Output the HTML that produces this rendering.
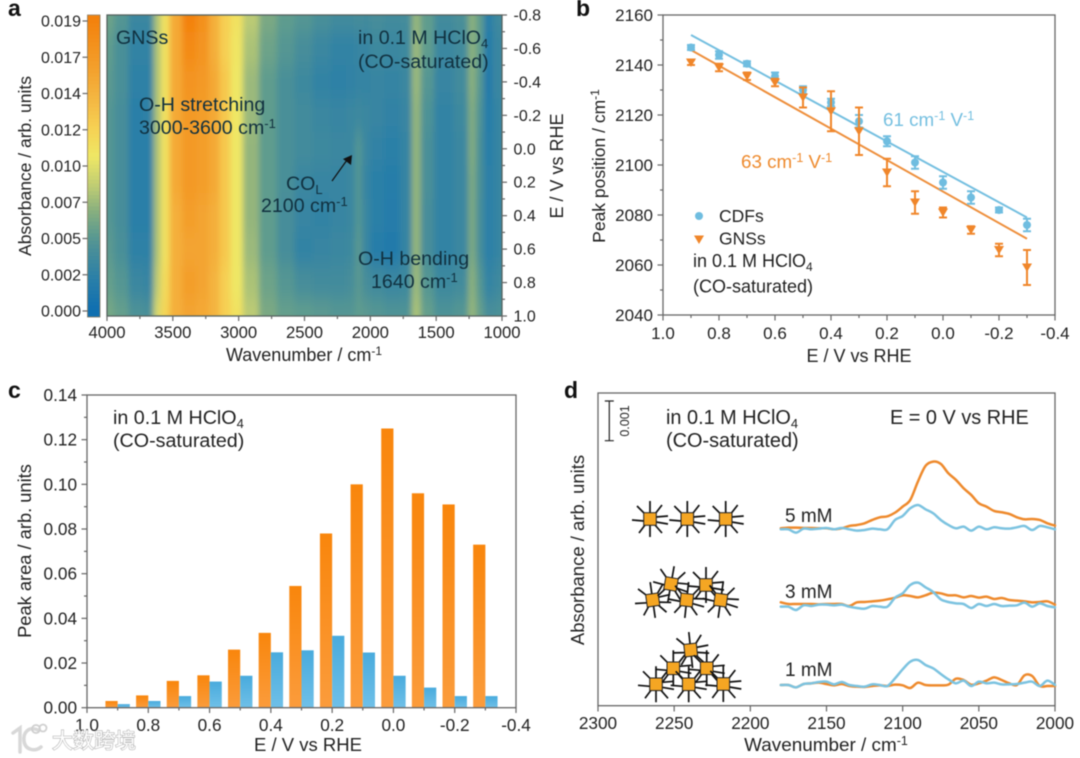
<!DOCTYPE html>
<html lang="en">
<head>
<meta charset="utf-8">
<title>CO adsorption spectra figure</title>
<style>
html,body{margin:0;padding:0;background:#fff;}
#figure{display:block;width:1080px;height:758px;filter:blur(0.45px);}
text{font-family:"Liberation Sans","Noto Sans CJK SC",sans-serif;fill:#222;}
.pl{font-weight:bold;font-size:23px;fill:#111;}
.t{font-size:18px;}
.big{font-size:19.7px;}
.h{font-size:19.6px;fill:#10303f;}
</style>
</head>
<body>
<svg id="figure" xmlns="http://www.w3.org/2000/svg" width="1080" height="758" viewBox="0 0 1080 758">
<defs>
  <clipPath id="heatClip"><rect x="107" y="15" width="395" height="301"/></clipPath>
  <filter id="heatBlur" filterUnits="userSpaceOnUse" x="40" y="-60" width="560" height="450"><feGaussianBlur stdDeviation="3 9"/></filter>
  <linearGradient id="barOrange" x1="0" y1="0" x2="0" y2="1"><stop offset="0" stop-color="#f9860c"/><stop offset="1" stop-color="#fb9c3c"/></linearGradient>
  <linearGradient id="barBlue" x1="0" y1="0" x2="0" y2="1"><stop offset="0" stop-color="#49abdd"/><stop offset="1" stop-color="#6fc0e8"/></linearGradient>
</defs>

<rect x="0" y="0" width="1080" height="758" fill="#fff"/>

<g id="panelA">
  <text class="pl" x="8" y="16">a</text>
  <g clip-path="url(#heatClip)"><g id="heatCells" filter="url(#heatBlur)"></g></g>
  <rect x="107" y="15" width="395" height="301" fill="none" stroke="#55625f" stroke-width="1.3"/>
  <g id="colorbar"></g>
  <g id="axesA"></g>
  <text class="t" transform="translate(31,166) rotate(-90)" text-anchor="middle" style="font-size:17.5px">Absorbance / arb. units</text>
  <text class="t" transform="translate(563,166) rotate(-90)" text-anchor="middle">E / V vs RHE</text>
  <text class="t" x="304" y="361" text-anchor="middle">Wavenumber / cm<tspan font-size="12" dy="-6">-1</tspan></text>
  <text class="h" x="116" y="44">GNSs</text>
  <text class="h" x="358" y="44">in 0.1 M HClO<tspan font-size="13" dy="4">4</tspan></text>
  <text class="h" x="358" y="68">(CO-saturated)</text>
  <text class="h" x="139" y="111">O-H stretching</text>
  <text class="h" x="139" y="134">3000-3600 cm<tspan font-size="13" dy="-6">-1</tspan></text>
  <text class="h" x="286" y="190">CO<tspan font-size="13" dy="4">L</tspan></text>
  <text class="h" x="261" y="212">2100 cm<tspan font-size="13" dy="-6">-1</tspan></text>
  <path d="M332 181L347 160" stroke="#111" stroke-width="1.2" fill="none"/>
  <path d="M352 155L351 165L343 159Z" fill="#111"/>
  <text class="h" x="358" y="265">O-H bending</text>
  <text class="h" x="371" y="288">1640 cm<tspan font-size="13" dy="-6">-1</tspan></text>
</g>

<g id="panelB">
  <text class="pl" x="576" y="16">b</text>
  <rect x="663" y="15" width="392" height="300" fill="none" stroke="#666" stroke-width="1.3"/>
  <g id="axesB"></g>
  <g id="marksB"></g>
  <text class="t" transform="translate(605,166) rotate(-90)" text-anchor="middle" style="font-size:17.5px">Peak position / cm<tspan font-size="12" dy="-6">-1</tspan></text>
  <text class="t" x="859" y="362" text-anchor="middle">E / V vs RHE</text>
  <text class="t" x="883" y="126" style="fill:#74bfe0;font-size:18.8px">61 cm<tspan font-size="12.5" dy="-6">-1</tspan><tspan dy="6"> V</tspan><tspan font-size="12.5" dy="-6">-1</tspan></text>
  <text class="t" x="741" y="168" style="fill:#ee8a2d;font-size:18.8px">63 cm<tspan font-size="12.5" dy="-6">-1</tspan><tspan dy="6"> V</tspan><tspan font-size="12.5" dy="-6">-1</tspan></text>
  <circle cx="699" cy="216" r="4" fill="#6fbde0"/>
  <text class="t" x="719" y="222" style="font-size:17.5px">CDFs</text>
  <path d="M694 235.500H704L699 244Z" fill="#f0862a"/>
  <text class="t" x="719" y="244.500" style="font-size:17.5px">GNSs</text>
  <text class="t" x="693" y="267">in 0.1 M HClO<tspan font-size="12" dy="4">4</tspan></text>
  <text class="t" x="693" y="292.500">(CO-saturated)</text>
</g>

<g id="panelC">
  <text class="pl" x="8" y="398">c</text>
  <g id="marksC"></g>
  <rect x="87" y="395" width="429" height="312.700" fill="none" stroke="#666" stroke-width="1.3"/>
  <g id="axesC"></g>
  <text class="t" transform="translate(31,551) rotate(-90)" text-anchor="middle" style="font-size:18.3px">Peak area / arb. units</text>
  <text class="t" x="308" y="751" text-anchor="middle" style="font-size:18.5px">E / V vs RHE</text>
  <text class="big" x="113" y="424">in 0.1 M HClO<tspan font-size="13" dy="4">4</tspan></text>
  <text class="big" x="113" y="447">(CO-saturated)</text>
</g>

<g id="panelD">
  <text class="pl" x="564" y="398">d</text>
  <rect x="598" y="393" width="457" height="312.700" fill="none" stroke="#666" stroke-width="1.3"/>
  <g id="axesD"></g>
  <g id="particles"></g>
  <g id="marksD"></g>
  <path d="M609.300 401V440.700M604.800 401H613.800M604.800 440.700H613.800" stroke="#222" stroke-width="1.2" fill="none"/>
  <text transform="translate(629,421) rotate(-90)" text-anchor="middle" font-size="12.500">0.001</text>
  <text class="t" transform="translate(584,550) rotate(-90)" text-anchor="middle" style="font-size:18.5px">Absorbance / arb. units</text>
  <text class="t" x="826" y="751" text-anchor="middle" style="font-size:18.9px">Wavenumber / cm<tspan font-size="12.5" dy="-6">-1</tspan></text>
  <text class="big" x="666" y="424" style="font-size:19.9px">in 0.1 M HClO<tspan font-size="13" dy="4">4</tspan></text>
  <text class="big" x="666" y="447" style="font-size:19.9px">(CO-saturated)</text>
  <text class="big" x="890" y="424" style="font-size:19.9px">E = 0 V vs RHE</text>
  <text class="t" x="785" y="522" style="font-size:19px">5 mM</text>
  <text class="t" x="785" y="598" style="font-size:19px">3 mM</text>
  <text class="t" x="785" y="676" style="font-size:19px">1 mM</text>
</g>

<g id="watermark">
  <path d="M13 733L20 728V752M38 730C28 726 23 733 24 741C25 750 35 752 41 747" fill="none" stroke="#d8d8d8" stroke-width="3.500" stroke-linecap="round"/>
  <circle cx="36" cy="729" r="4" fill="none" stroke="#d0d0d0" stroke-width="1.800"/>
  <circle cx="43" cy="728" r="3.500" fill="none" stroke="#d0d0d0" stroke-width="1.800"/>
  <text x="52" y="748" font-size="21" style="fill:#fff;stroke:#b5b5b5;stroke-width:1.2px;paint-order:stroke">大数跨境</text>
</g>
</svg>

<script>
/* ---------- panel a data ---------- */
const heatWavenumbers = [4000,3890,3783,3674,3620,3566,3484,3376,3267,3186,3104,3023,2914,2778,2643,2507,2371,2235,2140,2090,2040,1964,1828,1719,1652,1584,1448,1285,1231,1163,1109,1054,1000];
const heatPotentials = [-0.8,-0.6,-0.4,-0.2,0,0.2,0.4,0.6,0.8,1.0];
/* absorbance in units of 1e-3, one row per potential */
const heatAbsorbance = [
[5.5,4.5,3.0,3.0,7.5,10.5,15,19,17.5,14.5,12,10.5,8,6,5,4.5,4,3.5,3.5,3.8,3.5,3.8,3.5,3.6,6.8,5,3.5,4,6.5,5,1.5,3,3.5],
[5,4,2.5,2.5,7.5,10.5,15,18,17,14.5,12,10.2,7.5,5.5,4.5,3.8,3,2.5,2.5,2.8,2.8,3.2,3,3.2,7,5,3,3.5,6.5,5,1.2,2.8,3],
[4.8,4,2.2,2.2,7.5,10.5,15,17,16.5,15,12.5,10,7,5,4,3.2,2.5,2.2,2.4,2.6,2.6,2.8,2.6,3,7,4.5,2.8,3.5,6.5,4.5,1,2.8,3],
[4.5,3.8,2,2.2,7.5,10.5,15,16.5,16,15,12.5,10,7,5,4,3.5,3,2.8,3,3.2,3,2.8,2.4,2.8,6.8,4.2,2.5,3.2,6.2,4.2,1.5,2.5,3],
[4.5,3.8,2,2,7.5,10.5,15,16.5,16,15,12.5,10,6.8,5,4,3.5,3.2,3,3,4.5,3,2.4,2.1,2.6,6.8,4,2.5,3,6.2,4,1.8,2.5,3],
[4.5,3.8,2,2,7.5,10.5,15,16.5,16,15,12.5,10,6.8,5,4,3,2.8,2.8,3,4.5,2.8,2.1,1.8,2.6,6.8,4,2.5,3,6,4,2,2.5,3],
[4.5,3.8,2,2,7.5,10.5,14.5,16,15.5,14.5,12.5,10,6.8,5,3.8,2.8,2.5,2.8,3,4.5,3,2.1,1.6,2.6,6.8,3.8,2.5,3,6,3.8,2,2.5,3],
[4.8,4,2.2,2.2,7.5,10.5,14.5,15.5,15.5,14.5,12.5,10,7,5,3.8,2.5,2.8,3,3.2,4.8,3,1.8,1.4,2.6,6.8,3.8,2.5,3,6,3.8,2,2.5,3],
[5.2,4.5,3,2.8,8,11,14.5,16,15.5,14,12,10,7.5,5.5,4.5,3.8,3.5,3.5,3.8,4.8,3.8,3.4,3,3.2,7,4.5,3.2,3.5,6.5,4.5,2.5,3,3.5],
[5.8,5.2,4.2,4,9,11.5,14.5,15.5,15,14,12,10.5,8,6,5.2,5,4.8,4.5,4.5,5,4.8,4.5,4.3,4.3,7.5,5.2,4.2,4.5,6.8,5.2,3.8,4,4.2]
];
const colorLevels = [0,2,4,5,6.5,8,10,12,14,16,19];
const colorHexes = ['#0f6fb0','#2a7fa8','#4a8f98','#5f9c8e','#8ab07e','#bccb74','#efe765','#f6cf52','#f4b440','#f39e2a','#f3810c'];
const colorbarTicks = ['0.000','0.002','0.005','0.007','0.010','0.012','0.014','0.017','0.019'];
const wavenumberTicksA = [4000,3500,3000,2500,2000,1500,1000];
const potentialTicksA = ['-0.8','-0.6','-0.4','-0.2','0.0','0.2','0.4','0.6','0.8','1.0'];

/* ---------- panel b data ---------- */
const scanPotentials = [0.9,0.8,0.7,0.6,0.5,0.4,0.3,0.2,0.1,0,-0.1,-0.2,-0.3];
const cdfPeak = [2147,2144,2140.5,2135.5,2130,2125,2117.5,2109.5,2101,2093,2087,2082,2076];
const cdfError = [1,1.5,1,1.5,1.5,1.5,2.5,2,2.5,2.5,2.5,1,2.5];
const gnsPeak = [2141,2139,2135.5,2133,2127,2121.5,2113.5,2097,2085,2081,2074,2066,2059];
const gnsError = [1,1.5,1.5,1.5,4,8,9.5,5.5,4.5,2,1.5,2.5,7];
const fitPotentials = [0.9,-0.3];
const cdfFit = [2152,2079];
const gnsFit = [2146,2070.5];
const peakTicks = [2040,2060,2080,2100,2120,2140,2160];
const potentialTicksB = ['1.0','0.8','0.6','0.4','0.2','0.0','-0.2','-0.4'];

/* ---------- panel c data ---------- */
const gnsArea = [0.003,0.0055,0.012,0.0145,0.026,0.0335,0.0545,0.078,0.100,0.125,0.096,0.091,0.073];
const cdfArea = [0.0016,0.003,0.0052,0.0117,0.0143,0.0248,0.0257,0.0322,0.0247,0.0143,0.009,0.0052,0.0052];
const areaTicks = ['0.00','0.02','0.04','0.06','0.08','0.10','0.12','0.14'];

/* ---------- panel d data ---------- */
const specWavenumbers = [2180,2175,2170,2165,2160,2155,2150,2145,2140,2135,2130,2125,2120,2115,2110,2105,2100,2095,2090,2085,2080,2075,2070,2065,2060,2055,2050,2045,2040,2035,2030,2025,2020,2015,2010,2005,2000];
/* intensity counts above each trace baseline; 119 counts = 0.001 absorbance */
const gns5mM = [0,2,2,1,1,0,0,-3,0,7,10,15,25,33,36,47,65,85,140,187,200,193,165,145,120,100,75,65,52,48,43,33,27,28,25,15,8];
const cdf5mM = [-3,-3,-13,-1,-3,-1,1,-3,1,-3,-7,-5,-1,-3,-3,25,37,60,70,57,45,25,10,0,5,-7,5,-3,3,0,-1,3,7,-5,7,3,-3];
const gns3mM = [8,3,3,3,3,2,3,3,3,-3,8,9,11,13,17,22,29,27,23,29,37,35,29,29,23,27,22,25,18,21,15,13,11,8,9,11,1];
const cdf3mM = [-5,-5,-15,-1,-3,1,1,-1,1,-5,-9,-11,-3,-5,-5,22,35,60,67,53,39,17,9,5,3,-9,3,-3,3,-3,-2,-1,7,-5,5,-3,-7];
const gns1mM = [0,0,-7,3,5,7,3,-1,3,-3,-5,-6,-3,-1,-3,1,-1,-9,7,0,-1,-1,1,19,15,1,5,13,23,15,5,0,29,27,-3,-3,-3];
const cdf1mM = [0,0,-7,3,5,9,10,2,9,0,-3,-5,2,0,-3,20,47,70,75,60,50,33,17,5,13,-3,10,5,7,2,2,3,7,10,-3,13,0];
const specTicks = [2300,2250,2200,2150,2100,2050,2000];

/* ---------- helpers ---------- */
const NS = 'http://www.w3.org/2000/svg';
function make(parent, tag, attrs, str) {
  const n = document.createElementNS(NS, tag);
  for (const k in attrs) n.setAttribute(k, attrs[k]);
  if (str !== undefined) n.textContent = str;
  parent.appendChild(n);
  return n;
}
const linear = (d0, d1, r0, r1) => v => r0 + (v - d0) / (d1 - d0) * (r1 - r0);
const $ = id => document.getElementById(id);
const axisColor = '#666';

function colorOf(v) {
  const top = colorLevels.length - 1;
  if (v <= colorLevels[0]) return colorHexes[0];
  if (v >= colorLevels[top]) return colorHexes[top];
  let i = 0;
  while (colorLevels[i + 1] < v) i++;
  const t = (v - colorLevels[i]) / (colorLevels[i + 1] - colorLevels[i]);
  const rgb = h => [1, 3, 5].map(p => parseInt(h.substr(p, 2), 16));
  const a = rgb(colorHexes[i]), b = rgb(colorHexes[i + 1]);
  return 'rgb(' + a.map((c, k) => Math.round(c + (b[k] - c) * t)).join(',') + ')';
}

function tickLine(parent, x1, y1, x2, y2, name) {
  const n = make(parent, 'line', {x1, y1, x2, y2, stroke: axisColor, 'stroke-width': 1.2});
  
  
  return n;
}
function tickText(parent, x, y, str, anchor, size, name) {
  const n = make(parent, 'text', {x, y, 'text-anchor': anchor, 'font-size': size}, str);
  
  
  return n;
}

/* ---------- panel a ---------- */
const xHeat = linear(4000, 1000, 107, 502);
const yHeat = linear(-0.8, 1.0, 15, 316);
heatAbsorbance.forEach((row, j) => {
  const e = heatPotentials[j];
  const yTop = j === 0 ? yHeat(e) - 40 : (yHeat(heatPotentials[j - 1]) + yHeat(e)) / 2;
  const yBot = j === heatPotentials.length - 1 ? yHeat(e) + 40 : (yHeat(heatPotentials[j + 1]) + yHeat(e)) / 2;
  row.forEach((v, i) => {
    const w = heatWavenumbers[i];
    const xL = i === 0 ? xHeat(w) - 30 : (xHeat(heatWavenumbers[i - 1]) + xHeat(w)) / 2;
    const xR = i === row.length - 1 ? xHeat(w) + 30 : (xHeat(heatWavenumbers[i + 1]) + xHeat(w)) / 2;
    const cell = make($('heatCells'), 'rect', {x: xL, y: yTop, width: xR - xL + 0.5, height: yBot - yTop + 0.5, fill: colorOf(v)});
    
    
  });
});

const yBar = linear(0, 19, 311, 21);
for (let v = -0.375; v < 19.2; v += 0.25) {
  const seg = make($('colorbar'), 'rect', {x: 87.5, y: yBar(v + 0.25), width: 12.5, height: yBar(v) - yBar(v + 0.25) + 0.4, fill: colorOf(v)});
  
  
}
const barFrame = make($('colorbar'), 'rect', {x: 87.5, y: 15, width: 12.5, height: 302, fill: 'none', stroke: '#8a7a60', 'stroke-width': 0.8});



const yBarTick = linear(0, colorbarTicks.length - 1, 311, 21);
colorbarTicks.forEach((label, i) => {
  tickLine($('axesA'), 82.5, yBarTick(i), 87.5, yBarTick(i), 'colorbar-tick');
  tickText($('axesA'), 81, yBarTick(i) + 5.5, label, 'end', 16, 'colorbar-tick-label');
});
wavenumberTicksA.forEach(w => {
  tickLine($('axesA'), xHeat(w), 316, xHeat(w), 321, 'x-tick-a');
  tickText($('axesA'), xHeat(w), 338, String(w), 'middle', 16.7, 'x-tick-label-a');
  if (w > 1000) tickLine($('axesA'), xHeat(w - 250), 316, xHeat(w - 250), 319, 'x-minor-tick-a');
});
potentialTicksA.forEach((label, i) => {
  const v = parseFloat(label);
  tickLine($('axesA'), 502, yHeat(v), 507, yHeat(v), 'right-tick');
  tickText($('axesA'), 513.5, yHeat(v) + 5.5, label, 'start', 16, 'right-tick-label');
  if (i < potentialTicksA.length - 1) tickLine($('axesA'), 502, yHeat(v + 0.1), 505, yHeat(v + 0.1), 'right-minor-tick');
});

/* ---------- panel b ---------- */
const xB = linear(1.0, -0.4, 663, 1055);
const yB = linear(2040, 2160, 315, 15);
peakTicks.forEach(p => {
  tickLine($('axesB'), 657.5, yB(p), 663, yB(p), 'y-tick-b');
  tickText($('axesB'), 653, yB(p) + 6, String(p), 'end', 17, 'y-tick-label-b');
  if (p < 2160) tickLine($('axesB'), 660, yB(p + 10), 663, yB(p + 10), 'y-minor-tick-b');
});
potentialTicksB.forEach(label => {
  const v = parseFloat(label);
  tickLine($('axesB'), xB(v), 315, xB(v), 320.5, 'x-tick-b');
  tickText($('axesB'), xB(v), 339, label, 'middle', 17, 'x-tick-label-b');
  if (v > -0.4) tickLine($('axesB'), xB(v - 0.1), 315, xB(v - 0.1), 318, 'x-minor-tick-b');
});
const fitCdfLine = make($('marksB'), 'line', {x1: xB(fitPotentials[0]), y1: yB(cdfFit[0]), x2: xB(fitPotentials[1]), y2: yB(cdfFit[1]), stroke: '#74bfe0', 'stroke-width': 2});


const fitGnsLine = make($('marksB'), 'line', {x1: xB(fitPotentials[0]), y1: yB(gnsFit[0]), x2: xB(fitPotentials[1]), y2: yB(gnsFit[1]), stroke: '#ee8f3c', 'stroke-width': 2});



function errorBar(e, peak, err, color, name) {
  const x = xB(e), yT = yB(peak + err), yL = yB(peak - err);
  const bar = make($('marksB'), 'path', {d: `M${x} ${yT}V${yL}M${x - 4} ${yT}H${x + 4}M${x - 4} ${yL}H${x + 4}`, stroke: color, 'stroke-width': 2, fill: 'none'});
  
  
}
scanPotentials.forEach((e, i) => {
  errorBar(e, cdfPeak[i], cdfError[i], '#6fbde0', 'error-bar-cdfs');
  const dot = make($('marksB'), 'circle', {cx: xB(e), cy: yB(cdfPeak[i]), r: 4, fill: '#6fbde0'});
  
  
});
scanPotentials.forEach((e, i) => {
  errorBar(e, gnsPeak[i], gnsError[i], '#f0862a', 'error-bar-gnss');
  const x = xB(e), y = yB(gnsPeak[i]);
  const tri = make($('marksB'), 'path', {d: `M${x - 5} ${y - 4}H${x + 5}L${x} ${y + 4.5}Z`, fill: '#f0862a'});
  
  
});

/* ---------- panel c ---------- */
const xC = linear(1.0, -0.4, 87, 516);
const yC = linear(0, 0.14, 707.7, 395);
const barWidth = 12.2;
scanPotentials.forEach((e, i) => {
  const bo = make($('marksC'), 'rect', {x: xC(e) - barWidth, y: yC(gnsArea[i]), width: barWidth, height: yC(0) - yC(gnsArea[i]), fill: 'url(#barOrange)'});
  
  
  const bb = make($('marksC'), 'rect', {x: xC(e), y: yC(cdfArea[i]), width: barWidth, height: yC(0) - yC(cdfArea[i]), fill: 'url(#barBlue)'});
  
  
});
areaTicks.forEach(label => {
  const v = parseFloat(label);
  tickLine($('axesC'), 81.5, yC(v), 87, yC(v), 'y-tick-c');
  tickText($('axesC'), 77, yC(v) + 6, label, 'end', 17.2, 'y-tick-label-c');
  if (v < 0.14) tickLine($('axesC'), 84, yC(v + 0.01), 87, yC(v + 0.01), 'y-minor-tick-c');
});
potentialTicksB.forEach(label => {
  const v = parseFloat(label);
  tickLine($('axesC'), xC(v), 707.7, xC(v), 713, 'x-tick-c');
  tickText($('axesC'), xC(v), 731, label, 'middle', 17.2, 'x-tick-label-c');
  if (v > -0.4) tickLine($('axesC'), xC(v - 0.1), 707.7, xC(v - 0.1), 710.5, 'x-minor-tick-c');
});

/* ---------- panel d ---------- */
const xD = linear(2300, 2000, 598, 1055);
specTicks.forEach(w => {
  tickLine($('axesD'), xD(w), 705.7, xD(w), 711.5, 'x-tick-d');
  tickText($('axesD'), xD(w), 729, String(w), 'middle', 17.2, 'x-tick-label-d');
});
const countsToPx = 39.7 / 119;
function smoothPath(wn, counts, baseY) {
  const pts = wn.map((w, i) => [xD(w), baseY - counts[i] * countsToPx]);
  let d = 'M' + pts[0][0] + ' ' + pts[0][1];
  for (let i = 0; i < pts.length - 1; i++) {
    const p0 = pts[Math.max(i - 1, 0)], p1 = pts[i], p2 = pts[i + 1], p3 = pts[Math.min(i + 2, pts.length - 1)];
    d += 'C' + (p1[0] + (p2[0] - p0[0]) / 6) + ' ' + (p1[1] + (p2[1] - p0[1]) / 6) + ' ' + (p2[0] - (p3[0] - p1[0]) / 6) + ' ' + (p2[1] - (p3[1] - p1[1]) / 6) + ' ' + p2[0] + ' ' + p2[1];
  }
  return d;
}
function trace(counts, baseY, color, name) {
  const n = make($('marksD'), 'path', {d: smoothPath(specWavenumbers, counts, baseY), fill: 'none', stroke: color, 'stroke-width': 2.5, 'stroke-linejoin': 'round', 'stroke-linecap': 'round'});
  
  
}
trace(gns5mM, 528.3, '#ee8a2d', 'spectrum-gnss-5mm');
trace(cdf5mM, 528.3, '#7cc3e0', 'spectrum-cdfs-5mm');
trace(gns3mM, 605, '#ee8a2d', 'spectrum-gnss-3mm');
trace(cdf3mM, 605, '#7cc3e0', 'spectrum-cdfs-3mm');
trace(gns1mM, 685, '#ee8a2d', 'spectrum-gnss-1mm');
trace(cdf1mM, 685, '#7cc3e0', 'spectrum-cdfs-1mm');

function particle(cx, cy, rot, name) {
  const g = make($('particles'), 'g', {transform: `translate(${cx} ${cy}) rotate(${rot})`});
  
  
  const spokes = make(g, 'path', {d: 'M0 -6V-18M5 -5L12 -14M6 -2L18 -3M6 3L18 5M5 6L12 14M0 6V18M-5 6L-11 14M-6 2L-18 1M-5 -5L-13 -13', stroke: '#111', 'stroke-width': 1.7, fill: 'none'});
  
  
  const core = make(g, 'rect', {x: -6.3, y: -6.3, width: 12.6, height: 12.6, fill: '#f5a623', stroke: '#222', 'stroke-width': 1});
  
  
}
particle(650, 519, 0, 'particle-5mm-left');
particle(687.3, 519, 0, 'particle-5mm-middle');
particle(725.7, 519, 0, 'particle-5mm-right');
particle(652.7, 600, -8, 'particle-3mm-1');
particle(671, 584, 10, 'particle-3mm-2');
particle(686.7, 600, 6, 'particle-3mm-3');
particle(706, 585, 0, 'particle-3mm-4');
particle(720.7, 600, 8, 'particle-3mm-5');
particle(656, 684.3, 0, 'particle-1mm-1');
particle(673.3, 668.3, 0, 'particle-1mm-2');
particle(688.7, 684.3, 0, 'particle-1mm-3');
particle(690.7, 650, -6, 'particle-1mm-4');
particle(706.7, 668.3, 0, 'particle-1mm-5');
particle(723.3, 684, 0, 'particle-1mm-6');
</script>
</body>
</html>
